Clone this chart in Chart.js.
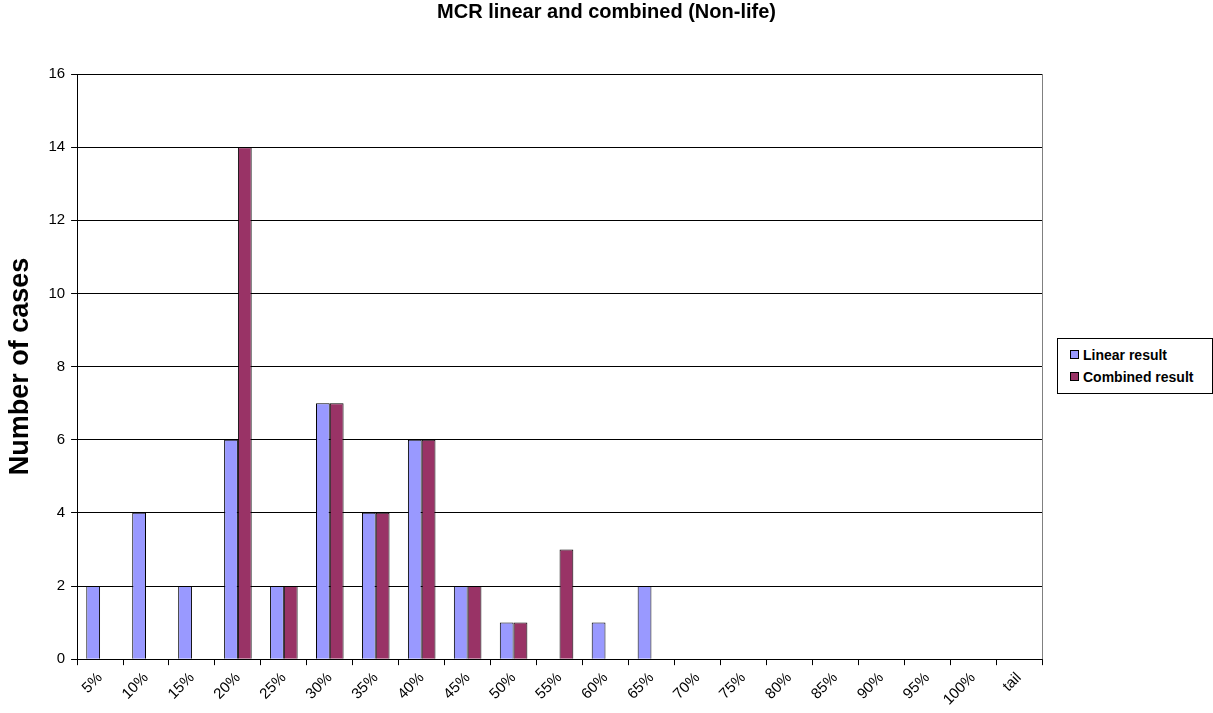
<!DOCTYPE html>
<html lang="en">
    <head>
        <meta charset="UTF-8">
        <title>MCR linear and combined (Non-life)</title>
        <script src="https://cdn.jsdelivr.net/npm/chart.js"></script>
        <style>
            body { margin: 0; background: #fff; }
            #wrap { position: relative; width: 1213px; height: 713px; }
            #legend {
                position: absolute; left: 1057px; top: 338px; width: 156px; height: 56px;
                border: 1px solid #000; box-sizing: border-box; background: #fff;
                font: bold 14px "Liberation Sans", Arial, sans-serif; padding: 5px 0 0 12px;
            }
            #legend div { height: 22px; line-height: 22px; white-space: nowrap; }
            #legend span { display: inline-block; width: 7px; height: 7px; border: 1px solid #000; margin-right: 4px; vertical-align: 1px; }
        </style>
    </head>
    <body>
        <div id="wrap">
            <canvas id="mcr" width="1213" height="713"></canvas>
            <div id="legend"></div>
        </div>
    </body>
    <script>
        // Categories and counts
        const categories = ['5%', '10%', '15%', '20%', '25%', '30%', '35%', '40%', '45%', '50%', '55%',
            '60%', '65%', '70%', '75%', '80%', '85%', '90%', '95%', '100%', 'tail'];
        const linearResult = [2, 4, 2, 6, 2, 7, 4, 6, 2, 1, 0, 1, 2, 0, 0, 0, 0, 0, 0, 0, 0];
        const combinedResult = [0, 0, 0, 14, 2, 7, 4, 6, 2, 1, 3, 0, 0, 0, 0, 0, 0, 0, 0, 0, 0];
        const yTicks = [0, 2, 4, 6, 8, 10, 12, 14, 16];
        const chartTitle = 'MCR linear and combined (Non-life)';

        const font = 'Liberation Sans, Arial, sans-serif';

        // right-hand border of the plot area + title centred on the whole canvas
        const extras = {
            id: 'extras',
            afterDraw(chart) {
                const a = chart.chartArea, c = chart.ctx;
                c.save();
                c.strokeStyle = '#808080';
                c.lineWidth = 1;
                c.beginPath();
                c.moveTo(Math.round(a.right) + 0.5, a.top);
                c.lineTo(Math.round(a.right) + 0.5, a.bottom);
                c.stroke();
                c.fillStyle = '#000';
                c.font = 'bold 20px ' + font;
                c.textAlign = 'center';
                c.textBaseline = 'middle';
                c.fillText(chartTitle, chart.width / 2, 12);
                c.restore();
            }
        };

        const datasets = [
            { label: 'Linear result', data: linearResult, backgroundColor: '#9999FF', borderColor: '#000', borderWidth: 1 },
            { label: 'Combined result', data: combinedResult, backgroundColor: '#993366', borderColor: '#000', borderWidth: 1 }
        ];

        const chart = new Chart(document.getElementById('mcr'), {
            type: 'bar',
            data: { labels: categories, datasets: datasets },
            plugins: [extras],
            options: {
                responsive: false,
                animation: false,
                devicePixelRatio: 1,
                categoryPercentage: 0.6,
                barPercentage: 1.0,
                layout: { padding: { top: 74, right: 171, left: 4, bottom: 0 } },
                plugins: {
                    legend: { display: false },
                    tooltip: { enabled: false },
                    title: { display: false }
                },
                scales: {
                    x: {
                        grid: { drawOnChartArea: false, color: '#000', tickLength: 6, offset: true },
                        border: { color: '#000' },
                        ticks: { color: '#000', font: { family: font, size: 15 }, maxRotation: 45, minRotation: 45, autoSkip: false, padding: 4 }
                    },
                    y: {
                        min: 0,
                        max: 16,
                        afterBuildTicks: axis => { axis.ticks = yTicks.map(v => ({ value: v })); },
                        grid: { color: '#000', tickColor: '#000', tickLength: 6 },
                        border: { color: '#000' },
                        ticks: { color: '#000', font: { family: font, size: 15 }, padding: 6 },
                        title: {
                            display: true,
                            text: 'Number of cases',
                            color: '#000',
                            font: { family: font, size: 27, weight: 'bold' },
                            padding: { top: 0, bottom: 6 }
                        }
                    }
                }
            }
        });

        // legend as real text, built from the datasets
        document.getElementById('legend').innerHTML = datasets.map(ds =>
            `<div><span style="background:${ds.backgroundColor}"></span>${ds.label}</div>`).join('');
        console.log(JSON.stringify(chart.chartArea));
    </script>
</html>
